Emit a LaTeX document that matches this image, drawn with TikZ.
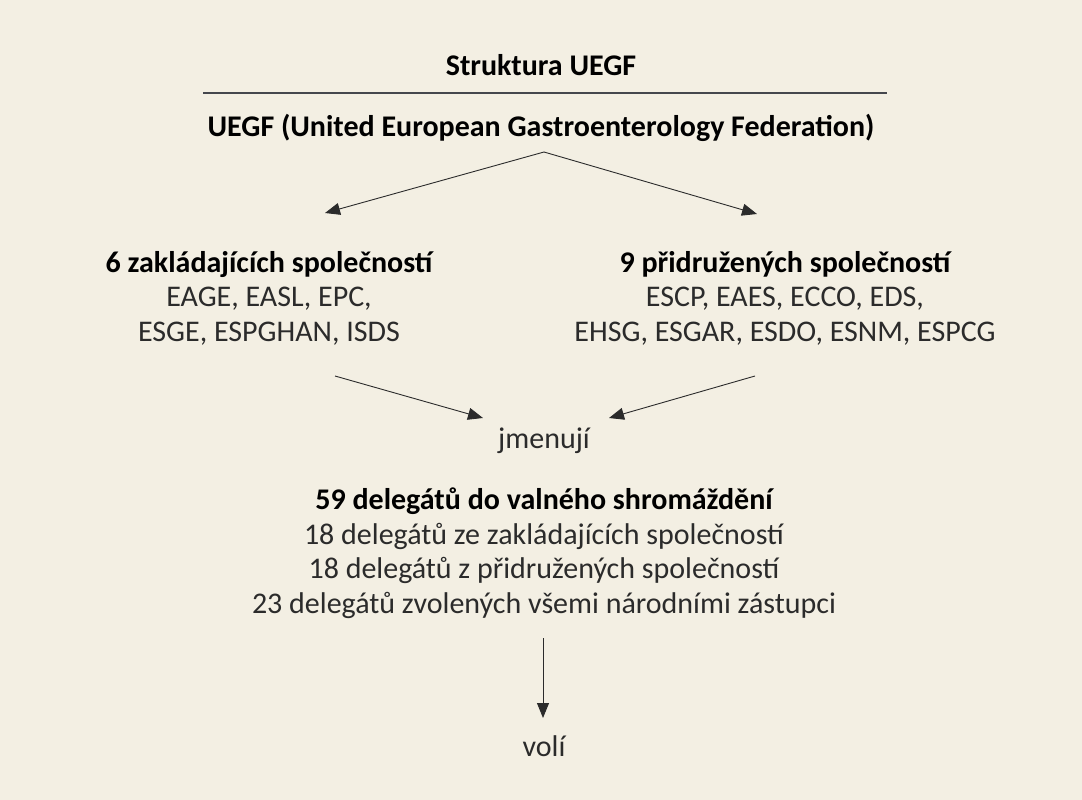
\documentclass[tikz,border=0pt]{standalone}
\usepackage{fontspec}
\setmainfont{Carlito}
\usetikzlibrary{arrows.meta,positioning}
\definecolor{paper}{HTML}{F3EFE3}
\definecolor{ink}{HTML}{2B2B2B}
\definecolor{rulecol}{HTML}{45474D}
\tikzset{
  txt/.style={align=center, inner sep=0pt, anchor=base, text=ink,
    font=\fontsize{30}{34.5}\selectfont},
  hd/.style={txt, text=black, font=\fontsize{30}{34.5}\selectfont\bfseries},
  arr/.style={draw=ink, line width=0.9pt, -{Triangle[length=15pt,width=12pt]}},
}
\begin{document}
\begin{tikzpicture}[x=1pt,y=-1pt]
  \fill[paper] (0,0) rectangle (1082,800);
  \useasboundingbox (0,0) rectangle (1082,800);
  % title and rule
  \node[hd] (title) at (541,75) {Struktura UEGF};
  \coordinate (rl) at (203,93);
  \coordinate (rr) at (887,93);
  \draw[rulecol, line width=1.4pt] (rl) -- (rr);
  \node[hd] (uegf) at (541,136) {UEGF (United European Gastroenterology Federation)};
  % member societies (base = last line)
  \node[txt] (zakl) at (269,341) {\textbf{\color{black}6 zakládajících společností}\\
    EAGE, EASL, EPC,\\ ESGE, ESPGHAN, ISDS};
  \node[txt] (prid) at (785,341) {\textbf{\color{black}9 přidružených společností}\\
    ESCP, EAES, ECCO, EDS,\\ EHSG, ESGAR, ESDO, ESNM, ESPCG};
  \node[txt] (jmen) at (544,448) {jmenují};
  \node[txt] (deleg) at (544,613) {\textbf{\color{black}59 delegátů do valného shromáždění}\\
    18 delegátů ze zakládajících společností\\
    18 delegátů z přidružených společností\\
    23 delegátů zvolených všemi národními zástupci};
  \node[txt] (voli) at (544,756) {volí};
  % connectors
  \coordinate (u-out) at (544,152);
  \coordinate (z-in) at (325,213);
  \coordinate (p-in) at (757,214);
  \coordinate (z-out) at (335,376);
  \coordinate (p-out) at (755,376);
  \coordinate (j-l) at (483,418);
  \coordinate (j-r) at (609,418);
  \coordinate (d-out) at (543,638);
  \coordinate (v-in) at (543,718);
  \draw[arr] (u-out) -- (z-in);
  \draw[arr] (u-out) -- (p-in);
  \draw[arr] (z-out) -- (j-l);
  \draw[arr] (p-out) -- (j-r);
  \draw[arr] (d-out) -- (v-in);
\end{tikzpicture}
\end{document}
